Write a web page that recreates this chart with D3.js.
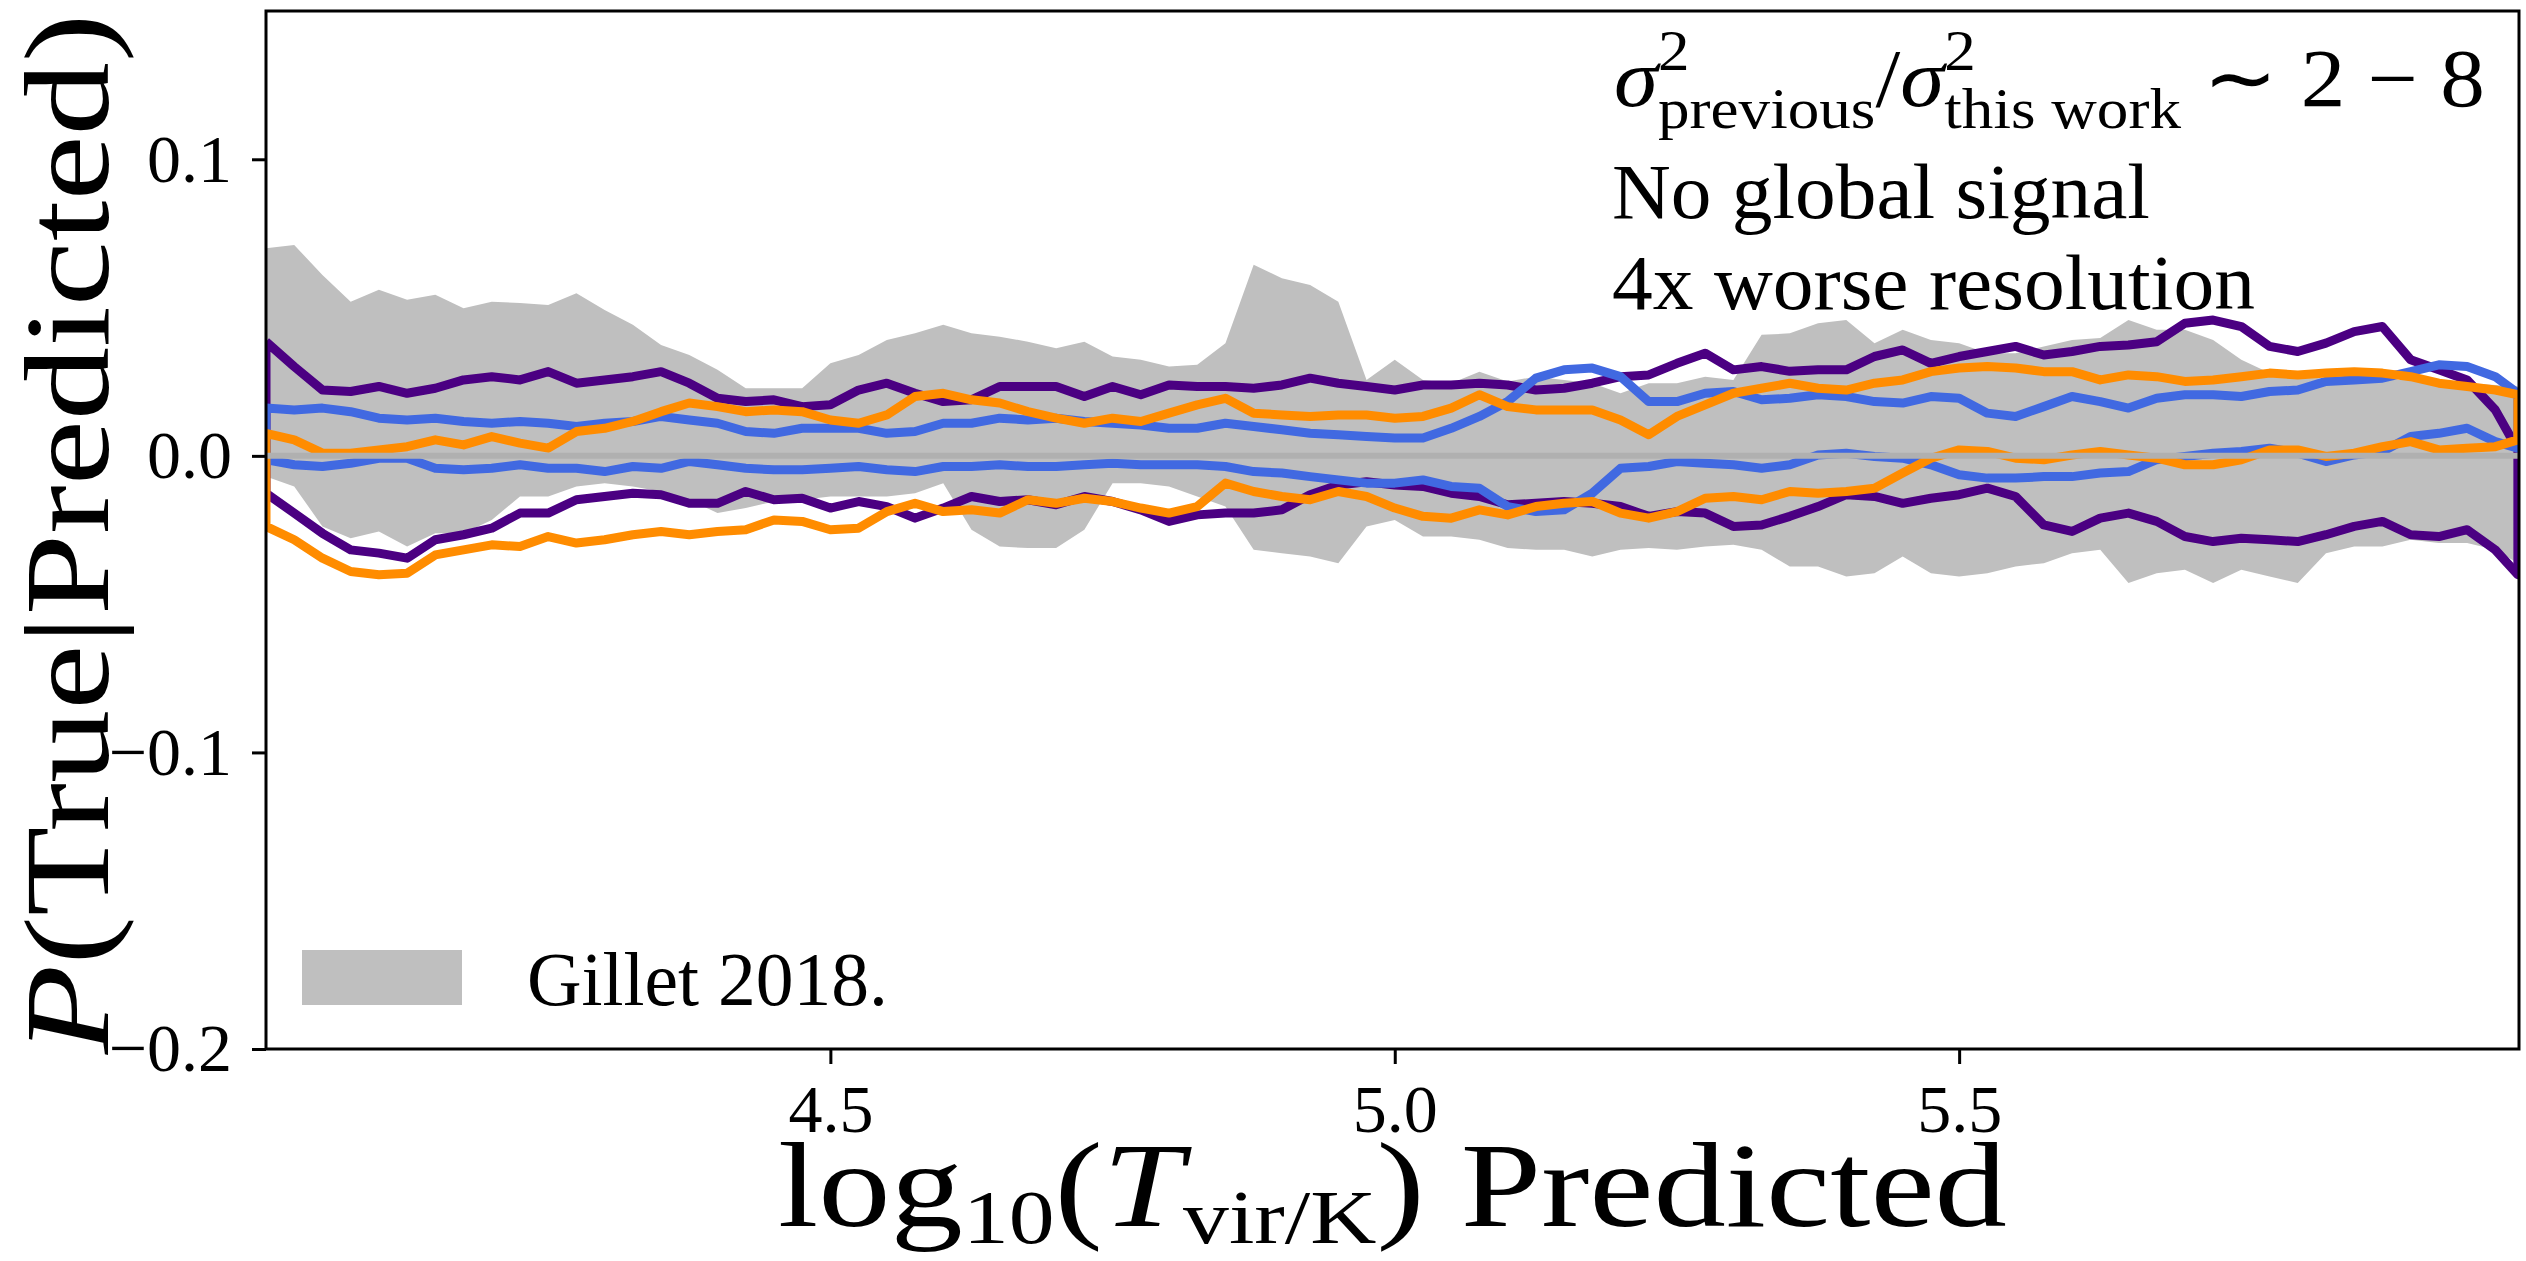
<!DOCTYPE html>
<html>
<head>
<meta charset="utf-8">
<script src="https://cdn.jsdelivr.net/npm/d3@7"></script>
<style>
    html, body { margin: 0; padding: 0; background: #fff; }
    svg text { font-family: "Liberation Serif", "Times New Roman", serif; fill: #000; }
</style>
</head>
<body>
<svg id="chart" width="2526" height="1261"></svg>
<script>
// x positions (log10 Tvir predicted), shared by every series
var logT = [4.000, 4.025, 4.050, 4.075, 4.100, 4.125, 4.150, 4.175, 4.200, 4.225,
            4.250, 4.275, 4.300, 4.325, 4.350, 4.375, 4.400, 4.425, 4.450, 4.475,
            4.500, 4.525, 4.550, 4.575, 4.600, 4.625, 4.650, 4.675, 4.700, 4.725,
            4.750, 4.775, 4.800, 4.825, 4.850, 4.875, 4.900, 4.925, 4.950, 4.975,
            5.000, 5.025, 5.050, 5.075, 5.100, 5.125, 5.150, 5.175, 5.200, 5.225,
            5.250, 5.275, 5.300, 5.325, 5.350, 5.375, 5.400, 5.425, 5.450, 5.475,
            5.500, 5.525, 5.550, 5.575, 5.600, 5.625, 5.650, 5.675, 5.700, 5.725,
            5.750, 5.775, 5.800, 5.825, 5.850, 5.875, 5.900, 5.925, 5.950, 5.975,
            5.995];

// Gillet 2018 band
var bandUpper = [0.0700, 0.0711, 0.0610, 0.0520, 0.0560, 0.0526, 0.0543, 0.0498, 0.0520, 0.0515,
                 0.0509, 0.0548, 0.0492, 0.0442, 0.0374, 0.0340, 0.0290, 0.0228, 0.0228, 0.0228,
                 0.0312, 0.0340, 0.0391, 0.0413, 0.0442, 0.0413, 0.0402, 0.0385, 0.0363, 0.0385,
                 0.0335, 0.0324, 0.0301, 0.0307, 0.0380, 0.0644, 0.0599, 0.0576, 0.0520, 0.0256,
                 0.0324, 0.0256, 0.0245, 0.0284, 0.0251, 0.0267, 0.0256, 0.0245, 0.0211, 0.0245,
                 0.0245, 0.0267, 0.0256, 0.0408, 0.0413, 0.0447, 0.0458, 0.0380, 0.0425, 0.0391,
                 0.0380, 0.0346, 0.0346, 0.0369, 0.0391, 0.0397, 0.0458, 0.0425, 0.0425, 0.0391,
                 0.0324, 0.0279, 0.0279, 0.0256, 0.0267, 0.0256, 0.0256, 0.0245, 0.0245, 0.0239,
                 0.0234];
var bandLower = [-0.0070, -0.0103, -0.0238, -0.0278, -0.0255, -0.0306, -0.0261, -0.0261, -0.0216, -0.0137,
                 -0.0137, -0.0103, -0.0092, -0.0103, -0.0120, -0.0148, -0.0193, -0.0176, -0.0154, -0.0148,
                 -0.0137, -0.0137, -0.0137, -0.0126, -0.0092, -0.0249, -0.0306, -0.0311, -0.0311, -0.0249,
                 -0.0092, -0.0092, -0.0103, -0.0137, -0.0171, -0.0317, -0.0328, -0.0339, -0.0362, -0.0238,
                 -0.0216, -0.0272, -0.0272, -0.0283, -0.0311, -0.0317, -0.0317, -0.0339, -0.0317, -0.0311,
                 -0.0317, -0.0306, -0.0300, -0.0317, -0.0373, -0.0373, -0.0407, -0.0396, -0.0339, -0.0396,
                 -0.0407, -0.0396, -0.0373, -0.0362, -0.0328, -0.0317, -0.0429, -0.0396, -0.0384, -0.0429,
                 -0.0384, -0.0407, -0.0429, -0.0328, -0.0306, -0.0306, -0.0283, -0.0294, -0.0294, -0.0317,
                 -0.0362];

var indigoUpper = [0.0385, 0.0301, 0.0222, 0.0217, 0.0234, 0.0211, 0.0228, 0.0256, 0.0267, 0.0256,
                   0.0284, 0.0245, 0.0256, 0.0267, 0.0284, 0.0245, 0.0194, 0.0183, 0.0189, 0.0166,
                   0.0172, 0.0222, 0.0245, 0.0211, 0.0183, 0.0189, 0.0234, 0.0234, 0.0234, 0.0200,
                   0.0234, 0.0206, 0.0239, 0.0234, 0.0234, 0.0228, 0.0239, 0.0262, 0.0245, 0.0234,
                   0.0222, 0.0239, 0.0239, 0.0245, 0.0239, 0.0222, 0.0228, 0.0245, 0.0267, 0.0273,
                   0.0312, 0.0346, 0.0290, 0.0301, 0.0285, 0.0290, 0.0290, 0.0335, 0.0357, 0.0312,
                   0.0335, 0.0352, 0.0369, 0.0340, 0.0352, 0.0369, 0.0374, 0.0385, 0.0447, 0.0458,
                   0.0436, 0.0369, 0.0352, 0.0380, 0.0419, 0.0436, 0.0324, 0.0290, 0.0256, 0.0155,
                   0.0020];
var indigoLower = [-0.0126, -0.0193, -0.0261, -0.0317, -0.0328, -0.0345, -0.0283, -0.0266, -0.0244, -0.0193,
                   -0.0193, -0.0148, -0.0137, -0.0126, -0.0131, -0.0160, -0.0160, -0.0120, -0.0148, -0.0143,
                   -0.0176, -0.0154, -0.0171, -0.0210, -0.0176, -0.0137, -0.0154, -0.0148, -0.0165, -0.0137,
                   -0.0154, -0.0182, -0.0221, -0.0199, -0.0193, -0.0193, -0.0182, -0.0131, -0.0098, -0.0087,
                   -0.0098, -0.0103, -0.0126, -0.0137, -0.0165, -0.0160, -0.0154, -0.0160, -0.0171, -0.0204,
                   -0.0188, -0.0193, -0.0238, -0.0233, -0.0204, -0.0171, -0.0131, -0.0137, -0.0160, -0.0143,
                   -0.0131, -0.0109, -0.0137, -0.0233, -0.0255, -0.0210, -0.0193, -0.0221, -0.0272, -0.0289,
                   -0.0278, -0.0283, -0.0289, -0.0266, -0.0238, -0.0221, -0.0266, -0.0272, -0.0249, -0.0317,
                   -0.0401];

var blueUpper = [0.0161, 0.0155, 0.0161, 0.0149, 0.0127, 0.0121, 0.0127, 0.0116, 0.0110, 0.0116,
                 0.0110, 0.0099, 0.0110, 0.0116, 0.0133, 0.0121, 0.0110, 0.0082, 0.0076, 0.0093,
                 0.0093, 0.0093, 0.0076, 0.0082, 0.0110, 0.0110, 0.0127, 0.0121, 0.0127, 0.0116,
                 0.0110, 0.0104, 0.0093, 0.0093, 0.0110, 0.0099, 0.0088, 0.0076, 0.0071, 0.0065,
                 0.0060, 0.0060, 0.0093, 0.0133, 0.0183, 0.0262, 0.0290, 0.0296, 0.0267, 0.0183,
                 0.0183, 0.0211, 0.0217, 0.0189, 0.0194, 0.0206, 0.0200, 0.0183, 0.0178, 0.0200,
                 0.0194, 0.0144, 0.0133, 0.0166, 0.0200, 0.0183, 0.0161, 0.0194, 0.0206, 0.0206,
                 0.0200, 0.0217, 0.0222, 0.0251, 0.0256, 0.0262, 0.0284, 0.0307, 0.0301, 0.0267,
                 0.0211];
var blueLower = [-0.0013, -0.0030, -0.0036, -0.0025, -0.0008, -0.0008, -0.0042, -0.0047, -0.0042, -0.0030,
                 -0.0042, -0.0042, -0.0053, -0.0036, -0.0042, -0.0019, -0.0030, -0.0042, -0.0047, -0.0047,
                 -0.0042, -0.0036, -0.0047, -0.0053, -0.0036, -0.0036, -0.0030, -0.0036, -0.0036, -0.0030,
                 -0.0025, -0.0030, -0.0030, -0.0030, -0.0036, -0.0053, -0.0058, -0.0070, -0.0081, -0.0092,
                 -0.0092, -0.0081, -0.0103, -0.0109, -0.0171, -0.0188, -0.0182, -0.0126, -0.0042, -0.0036,
                 -0.0019, -0.0025, -0.0030, -0.0042, -0.0030, 0.0003, 0.0009, -0.0002, -0.0008, -0.0030,
                 -0.0064, -0.0075, -0.0075, -0.0070, -0.0070, -0.0058, -0.0053, -0.0013, -0.0002, 0.0009,
                 0.0015, 0.0026, 0.0009, -0.0019, 0.0003, 0.0015, 0.0065, 0.0076, 0.0093, 0.0048,
                 0.0026];

var orangeUpper = [0.0076, 0.0054, 0.0009, 0.0009, 0.0020, 0.0031, 0.0054, 0.0037, 0.0065, 0.0043,
                   0.0026, 0.0082, 0.0093, 0.0116, 0.0149, 0.0178, 0.0166, 0.0149, 0.0155, 0.0149,
                   0.0121, 0.0110, 0.0138, 0.0200, 0.0211, 0.0189, 0.0178, 0.0149, 0.0127, 0.0110,
                   0.0127, 0.0116, 0.0144, 0.0172, 0.0194, 0.0144, 0.0138, 0.0133, 0.0138, 0.0138,
                   0.0127, 0.0133, 0.0161, 0.0206, 0.0166, 0.0155, 0.0155, 0.0155, 0.0121, 0.0071,
                   0.0133, 0.0172, 0.0211, 0.0228, 0.0245, 0.0228, 0.0222, 0.0245, 0.0256, 0.0284,
                   0.0296, 0.0301, 0.0296, 0.0284, 0.0284, 0.0256, 0.0273, 0.0267, 0.0251, 0.0256,
                   0.0267, 0.0279, 0.0273, 0.0279, 0.0284, 0.0279, 0.0267, 0.0245, 0.0234, 0.0222,
                   0.0206];
var orangeLower = [-0.0238, -0.0283, -0.0345, -0.0390, -0.0401, -0.0396, -0.0334, -0.0317, -0.0300, -0.0306,
                   -0.0272, -0.0294, -0.0283, -0.0266, -0.0255, -0.0266, -0.0255, -0.0249, -0.0216, -0.0221,
                   -0.0249, -0.0244, -0.0188, -0.0160, -0.0188, -0.0182, -0.0193, -0.0148, -0.0160, -0.0143,
                   -0.0154, -0.0176, -0.0193, -0.0171, -0.0092, -0.0120, -0.0137, -0.0148, -0.0120, -0.0137,
                   -0.0176, -0.0204, -0.0210, -0.0182, -0.0199, -0.0171, -0.0160, -0.0154, -0.0193, -0.0210,
                   -0.0188, -0.0143, -0.0137, -0.0148, -0.0120, -0.0126, -0.0120, -0.0109, -0.0058, -0.0008,
                   0.0020, 0.0015, -0.0008, -0.0013, 0.0003, 0.0015, 0.0003, -0.0008, -0.0030, -0.0030,
                   -0.0013, 0.0020, 0.0020, -0.0002, 0.0009, 0.0031, 0.0048, 0.0020, 0.0026, 0.0031,
                   0.0054];

var xTicks = [4.5, 5.0, 5.5];
var yTicks = [-0.2, -0.1, 0.0, 0.1];
var legendLabel = "Gillet 2018.";
var noteLines = ["No global signal", "4x worse resolution"];

var width = 2526, height = 1261,
    plot = { left: 266, right: 2519, top: 11, bottom: 1049 };

var svg = d3.select("#chart");

var xRange = d3.scaleLinear().domain([4.0, 5.996]).range([plot.left, plot.right]),
    yRange = d3.scaleLinear().domain([-0.2, 0.15]).range([plot.bottom, plot.top]);

svg.append("clipPath").attr("id", "plotClip")
    .append("rect")
    .attr("x", plot.left).attr("y", plot.top)
    .attr("width", plot.right - plot.left).attr("height", plot.bottom - plot.top);

var inner = svg.append("g").attr("clip-path", "url(#plotClip)");

var band = d3.area()
    .x(function (d, i) { return xRange(logT[i]); })
    .y0(function (d, i) { return yRange(bandLower[i]); })
    .y1(function (d, i) { return yRange(bandUpper[i]); });

inner.append("path")
    .attr("d", band(logT))
    .attr("fill", "#bfbfbf");

// each colour is one closed outline: upper edge left to right, lower edge back
function outline(upper, lower) {
    var pts = logT.map(function (x, i) { return [x, upper[i]]; });
    for (var i = logT.length - 1; i >= 0; i--) {
        pts.push([logT[i], lower[i]]);
    }
    pts.push([logT[0], upper[0]]);
    return pts;
}

var lineFunc = d3.line()
    .x(function (d) { return xRange(d[0]); })
    .y(function (d) { return yRange(d[1]); });

var series = [
    { upper: indigoUpper, lower: indigoLower, color: "#4b0082" },
    { upper: blueUpper, lower: blueLower, color: "#4169e1" },
    { upper: orangeUpper, lower: orangeLower, color: "#ff8c00" }
];

series.forEach(function (s) {
    inner.append("path")
        .attr("d", lineFunc(outline(s.upper, s.lower)))
        .attr("fill", "none")
        .attr("stroke", s.color)
        .attr("stroke-width", 9)
        .attr("stroke-linejoin", "round");
});

inner.append("line")
    .attr("x1", plot.left).attr("x2", plot.right)
    .attr("y1", yRange(0)).attr("y2", yRange(0))
    .attr("stroke", "#b0b0b0")
    .attr("stroke-width", 6);

// axes
var xAxis = d3.axisBottom(xRange)
        .tickValues(xTicks)
        .tickSize(15)
        .tickSizeOuter(0)
        .tickPadding(20)
        .tickFormat(d3.format(".1f")),
    yAxis = d3.axisLeft(yRange)
        .tickValues(yTicks)
        .tickSize(14)
        .tickSizeOuter(0)
        .tickPadding(20)
        .tickFormat(d3.format(".1f"));

var gx = svg.append("g")
    .attr("transform", "translate(0," + plot.bottom + ")")
    .call(xAxis);
var gy = svg.append("g")
    .attr("transform", "translate(" + plot.left + ",0)")
    .call(yAxis);

[gx, gy].forEach(function (g) {
    g.select(".domain").remove();
    g.selectAll(".tick line").attr("stroke", "#000").attr("stroke-width", 3);
    g.selectAll(".tick text")
        .attr("font-family", "Liberation Serif, serif")
        .attr("font-size", 68)
        .attr("fill", "#000");
});

svg.append("rect")
    .attr("x", plot.left).attr("y", plot.top)
    .attr("width", plot.right - plot.left).attr("height", plot.bottom - plot.top)
    .attr("fill", "none")
    .attr("stroke", "#000")
    .attr("stroke-width", 3);

// squeeze or stretch a text horizontally so it spans the same width as the original
function fitWidth(sel, target, align) {
    var box = sel.node().getBBox();
    var x0 = align === "middle" ? box.x + box.width / 2 : box.x;
    var s = target / box.width;
    sel.attr("transform", "translate(" + x0 + ",0) scale(" + s + ",1) translate(" + (-x0) + ",0)");
}

// x label
var xLabel = svg.append("text")
    .attr("x", (plot.left + plot.right) / 2)
    .attr("y", 1226)
    .attr("text-anchor", "middle")
    .attr("font-size", 120);
xLabel.append("tspan").text("log");
xLabel.append("tspan").attr("font-size", 76).attr("dy", 17).text("10");
xLabel.append("tspan").attr("dy", -17).text("(");
xLabel.append("tspan").attr("font-style", "italic").text("T");
xLabel.append("tspan").attr("font-size", 76).attr("dy", 17).text("vir/K");
xLabel.append("tspan").attr("dy", -17).text(")");
xLabel.append("tspan").text("\u00a0Predicted");
fitWidth(xLabel, 1229, "middle");

// y label
var yLabelGroup = svg.append("g")
    .attr("transform", "translate(108," + 534 + ") rotate(-90)");
var yLabel = yLabelGroup.append("text")
    .attr("x", 0).attr("y", 0)
    .attr("text-anchor", "middle")
    .attr("font-size", 120);
yLabel.append("tspan").attr("font-style", "italic").text("P");
yLabel.append("tspan").text("(True|Predicted)");
fitWidth(yLabel, 1042, "middle");

// annotation, first line is built piece by piece for the stacked scripts
function appendRun(parent, x, y, pieces) {
    var run = parent.append("g");
    var cursor = x;
    pieces.forEach(function (piece) {
        var advance = 0;
        piece.forEach(function (part) {
            var t = run.append("text")
                .attr("x", cursor)
                .attr("y", y + (part.dy || 0))
                .attr("font-size", part.size)
                .attr("font-style", part.italic ? "italic" : "normal")
                .text(part.text);
            advance = Math.max(advance, t.node().getComputedTextLength());
        });
        cursor += advance;
    });
    return run;
}

var ratioPieces = [
    [{ text: "\u03c3", size: 82, italic: true }],
    [{ text: "2", size: 58, dy: -36 }, { text: "previous", size: 58, dy: 22 }],
    [{ text: "/", size: 82 }],
    [{ text: "\u03c3", size: 82, italic: true }],
    [{ text: "2", size: 58, dy: -36 }, { text: "this\u00a0work", size: 58, dy: 22 }],
    [{ text: "\u00a0\u223c\u00a02\u00a0\u2212\u00a08", size: 82 }]
];
var ratioLine = appendRun(svg, 1614, 106, ratioPieces);
fitWidth(ratioLine, 871, "start");

var noteWidths = [538, 643],
    noteBaselines = [218, 309];
noteLines.forEach(function (line, i) {
    var t = svg.append("text")
        .attr("x", 1612)
        .attr("y", noteBaselines[i])
        .attr("font-size", 78)
        .text(line);
    fitWidth(t, noteWidths[i], "start");
});

// legend
svg.append("rect")
    .attr("x", 302).attr("y", 950)
    .attr("width", 160).attr("height", 55)
    .attr("fill", "#bfbfbf");
var legendText = svg.append("text")
    .attr("x", 527)
    .attr("y", 1005)
    .attr("font-size", 76)
    .text(legendLabel);
fitWidth(legendText, 361, "start");
</script>
</body>
</html>
